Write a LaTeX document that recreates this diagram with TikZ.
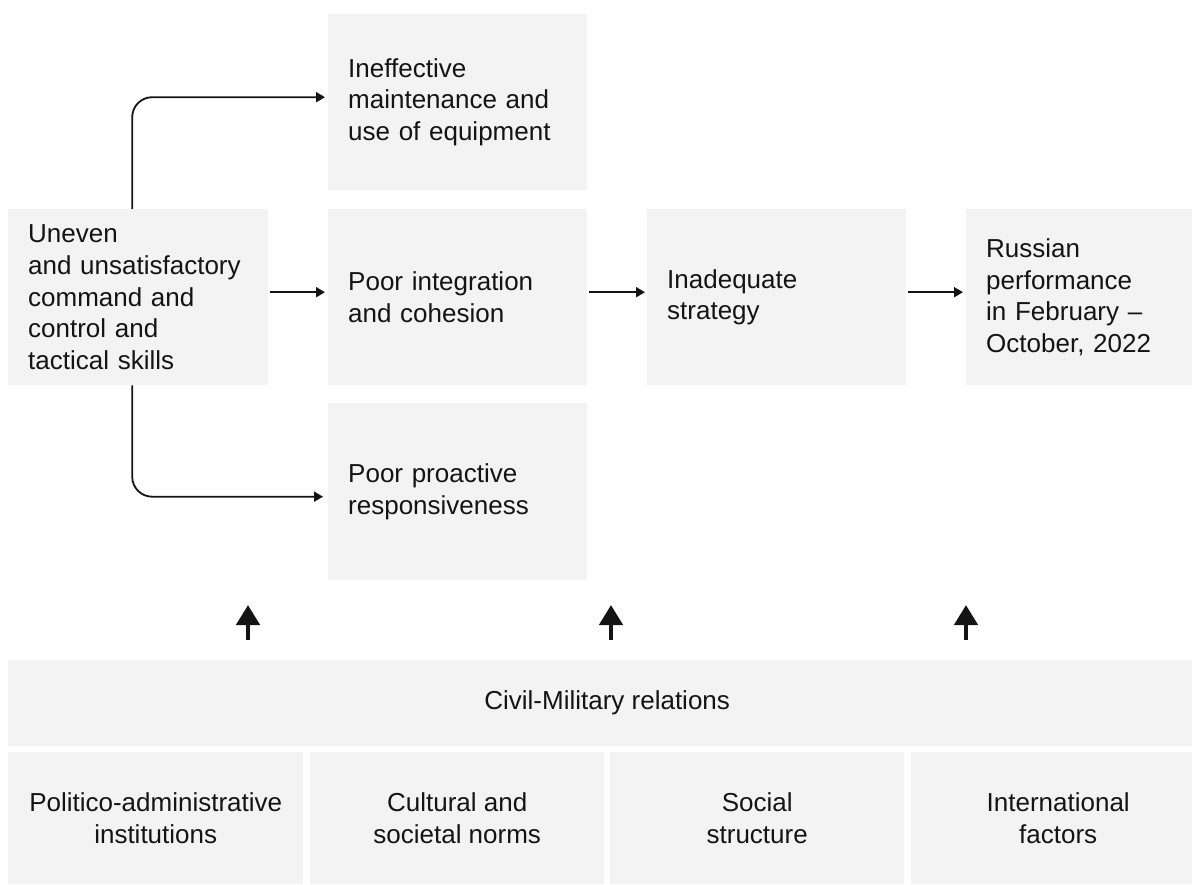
\documentclass[tikz,border=0pt]{standalone}
\usepackage{fontspec}
\setmainfont{Liberation Sans}
\usetikzlibrary{arrows.meta}
\definecolor{boxgray}{HTML}{F3F3F3}
\definecolor{ink}{HTML}{141414}
\begin{document}
\begin{tikzpicture}[x=1pt,y=-1pt,
  txt/.style={font=\fontsize{26}{31.7}\selectfont, text=ink},
  card/.style={txt, fill=boxgray, anchor=north west, inner ysep=0pt,
    inner xsep=20pt, align=left, minimum height=#1},
  card/.default=176pt,
  band/.style={txt, fill=boxgray, anchor=north west, inner sep=0pt,
    align=center},
  conn/.style={draw=ink, line width=1.8pt, rounded corners=20pt,
    -{Triangle[length=9pt,width=10pt]}},
  lift/.style={draw=ink, line width=4.6pt,
    -{Triangle[length=20pt,width=23pt]}}]
  \clip (0,0) rectangle (1192,884);
  \fill[white] (0,0) rectangle (1192,884);

  % upper flow
  \node[card, text width=219pt] (ineff) at (328,14)
    {Ineffective\\maintenance and\\use of equipment};
  \node[card, text width=220pt] (uneven) at (8,209)
    {Uneven\\and unsatisfactory\\command and\\control and\\tactical skills};
  \node[card, text width=219pt] (integ) at (328,209)
    {Poor integration\\and cohesion};
  \node[card, text width=219pt] (strat) at (647,209)
    {Inadequate\\strategy};
  \node[card, text width=200pt] (russ) at (966,209)
    {Russian\\performance\\in February –\\October, 2022};
  \node[card=177pt, text width=219pt] (proact) at (328,403)
    {Poor proactive\\responsiveness};

  % connectors
  \draw[conn] ([xshift=-6pt]uneven.north) |- ([xshift=-3pt,yshift=5pt]ineff.west);
  \draw[conn] ([xshift=-6pt]uneven.south) |- ([xshift=-5pt,yshift=-5pt]proact.west);
  \draw[conn, shorten <=2pt, shorten >=3pt]
    ([yshift=5pt]uneven.east) -- ([yshift=5pt]integ.west);
  \draw[conn, shorten <=2pt, shorten >=2pt]
    ([yshift=5pt]integ.east) -- ([yshift=5pt]strat.west);
  \draw[conn, shorten <=2pt, shorten >=3pt]
    ([yshift=5pt]strat.east) -- ([yshift=5pt]russ.west);

  % lower band
  \node[band, minimum width=1198pt, minimum height=86pt] (civil) at (8,660)
    {Civil-Military relations};
  \node[band, minimum width=295pt, minimum height=132pt] (polit) at (8,752)
    {Politico-administrative\\institutions};
  \node[band, minimum width=294pt, minimum height=132pt] (cult) at (310,752)
    {Cultural and\\societal norms};
  \node[band, minimum width=294pt, minimum height=132pt] (soc) at (610,752)
    {Social\\structure};
  \node[band, minimum width=294pt, minimum height=132pt] (intl) at (911,752)
    {International\\factors};

  % influence arrows
  \coordinate (a1) at (248,640); \coordinate (b1) at (248,605);
  \coordinate (a2) at (611,640); \coordinate (b2) at (611,605);
  \coordinate (a3) at (966,640); \coordinate (b3) at (966,605);
  \draw[lift] (a1) -- (b1);
  \draw[lift] (a2) -- (b2);
  \draw[lift] (a3) -- (b3);
\end{tikzpicture}
\end{document}
